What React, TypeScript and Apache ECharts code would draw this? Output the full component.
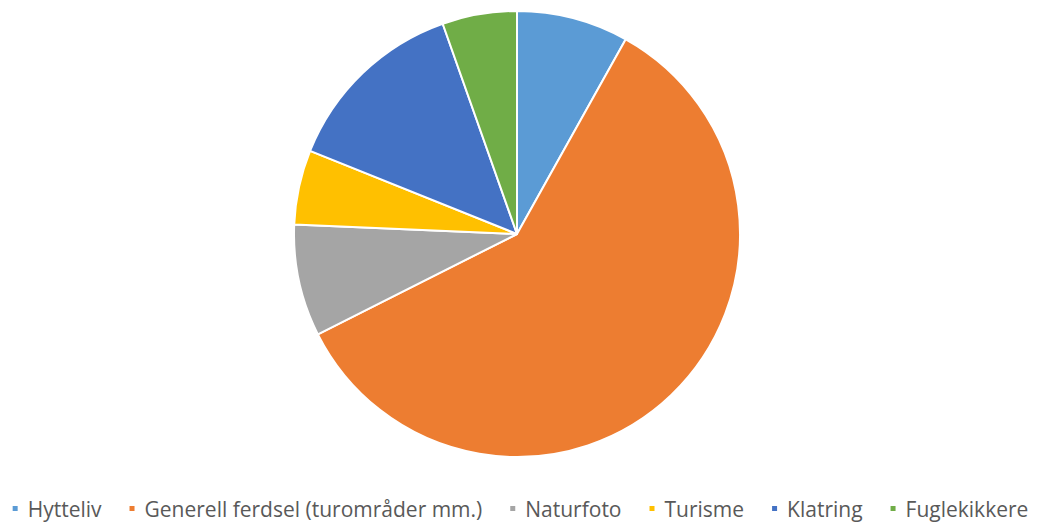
import React, { useEffect, useRef } from "react";
import * as echarts from "echarts";

const categories = ["Hytteliv", "Generell ferdsel (turområder mm.)", "Naturfoto", "Turisme", "Klatring", "Fuglekikkere"];
const values = [3, 22, 3, 2, 5, 2];
const colors = ["#5B9BD5", "#ED7D31", "#A5A5A5", "#FFC000", "#4472C4", "#70AD47"];

export default function App() {
  const ref = useRef<HTMLDivElement>(null);
  useEffect(() => {
    if (!ref.current) return;
    const chart = echarts.init(ref.current, undefined, { renderer: "svg" });
    chart.setOption({
      animation: false,
      color: colors,
      legend: {
        top: 493,
        left: "center",
        icon: "rect",
        itemWidth: 7,
        itemHeight: 7,
        itemGap: 26,
        textStyle: { fontSize: 21, color: "#595959", fontFamily: "Open Sans", padding: [0, 0, 0, 4] },
        data: categories,
      },
      series: [
        {
          type: "pie",
          center: [517, 234],
          radius: 223,
          startAngle: 90,
          clockwise: true,
          label: { show: false },
          labelLine: { show: false },
          itemStyle: { borderColor: "#fff", borderWidth: 2 },
          data: categories.map((c, i) => ({ name: c, value: values[i] })),
        },
      ],
    });
    return () => chart.dispose();
  }, []);
  return <div ref={ref} style={{ position: "absolute", left: 0, top: 0, width: 1039, height: 524 }} />;
}
